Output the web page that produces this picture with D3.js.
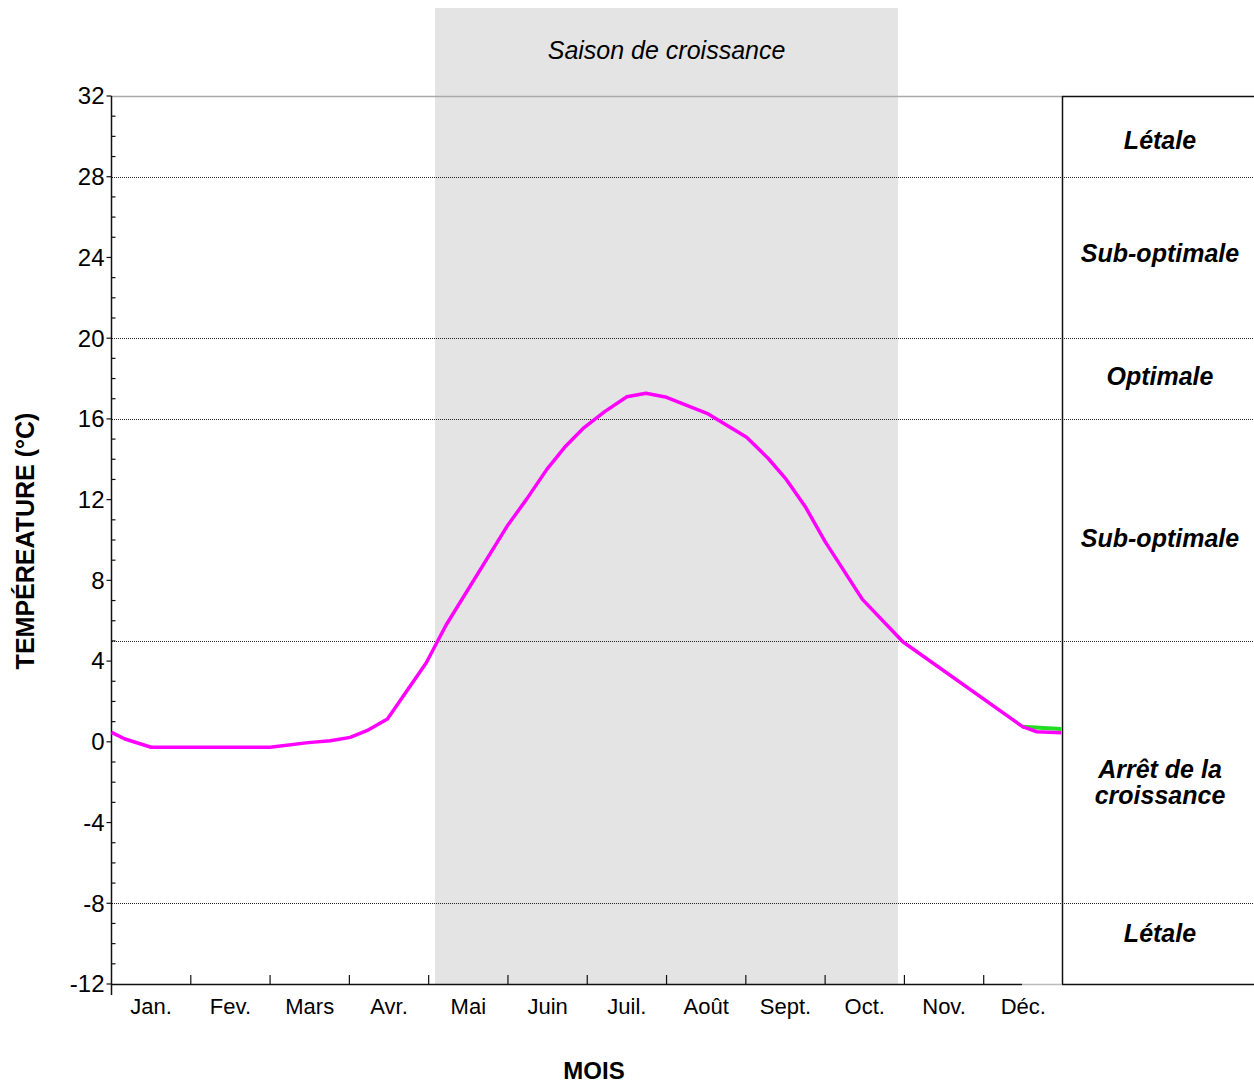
<!DOCTYPE html>
<html>
<head>
<meta charset="utf-8">
<script src="https://cdn.jsdelivr.net/npm/d3@7"></script>
<style>
  html, body { margin: 0; padding: 0; background: #fff; }
  svg { display: block; font-family: "Liberation Sans", Arial, sans-serif; }
</style>
</head>
<body>
<svg id="chart" width="1254" height="1084"></svg>
<script>
// ---- data ----
const months = ["Jan.", "Fev.", "Mars", "Avr.", "Mai", "Juin", "Juil.", "Août", "Sept.", "Oct.", "Nov.", "Déc."];
const yTicks = [-12, -8, -4, 0, 4, 8, 12, 16, 20, 24, 28, 32];
const thresholds = [28, 20, 16, 5, -8];
const zoneLabels = [["Létale"], ["Sub-optimale"], ["Optimale"], ["Sub-optimale"], ["Arrêt de la", "croissance"], ["Létale"]];
const zoneCenters = [29.8, 24.2, 18.1, 10.1, -2.0, -9.5];
const seasonStart = 4.08, seasonEnd = 9.92;
const seasonLabel = "Saison de croissance";
// magenta series (time in months from Jan 1, temperature °C)
const tempMonth = [0.0, 0.17, 0.50, 2.0, 2.48, 2.76, 3.01, 3.22, 3.48, 3.97, 4.22, 4.99, 5.24, 5.49, 5.73, 5.96, 6.22, 6.50, 6.74, 7.00, 7.51, 8.01, 8.28, 8.51, 8.75, 9.00, 9.47, 9.98, 11.49, 11.67, 11.98];
const tempValue = [0.47, 0.14, -0.27, -0.27, -0.04, 0.05, 0.22, 0.55, 1.13, 3.92, 5.79, 10.69, 12.05, 13.5, 14.66, 15.57, 16.36, 17.1, 17.27, 17.07, 16.28, 15.09, 14.05, 13.0, 11.65, 9.92, 7.06, 4.96, 0.75, 0.5, 0.45];
// green series
const greenMonth = [11.49, 11.98];
const greenValue = [0.75, 0.63];

// ---- layout ----
const svg = d3.select("#chart");
const x = d3.scaleLinear().domain([0, 12]).range([111.5, 1063]);
const y = d3.scaleLinear().domain([-12, 32]).range([984, 96]);
const panelLeft = 1062, panelRight = 1254;
const axisEndX = 1022;

// season band
svg.append("rect")
  .attr("x", x(seasonStart)).attr("y", 8)
  .attr("width", x(seasonEnd) - x(seasonStart)).attr("height", y(-12) - 8)
  .attr("fill", "#e4e4e4");
svg.append("text")
  .attr("x", (x(seasonStart) + x(seasonEnd)) / 2).attr("y", 59)
  .attr("text-anchor", "middle").attr("font-size", 25).attr("font-style", "italic")
  .text(seasonLabel);

// threshold dotted lines
svg.selectAll("line.thr").data(thresholds).join("line")
  .attr("class", "thr")
  .attr("x1", x(0)).attr("x2", panelRight)
  .attr("y1", d => Math.round(y(d)) + 0.5).attr("y2", d => Math.round(y(d)) + 0.5)
  .attr("stroke", "#222").attr("stroke-width", 1).attr("stroke-dasharray", "1,1")
  .attr("shape-rendering", "crispEdges");

// plot top border (gray)
svg.append("line").attr("x1", x(0)).attr("x2", panelLeft)
  .attr("y1", y(32) + 0.5).attr("y2", y(32) + 0.5)
  .attr("stroke", "#aaa").attr("stroke-width", 1.5);

// right panel
svg.append("line").attr("x1", panelLeft).attr("x2", panelRight).attr("y1", y(32) + 0.5).attr("y2", y(32) + 0.5).attr("stroke", "#111").attr("stroke-width", 1.5);
svg.append("line").attr("x1", panelLeft).attr("x2", panelRight).attr("y1", y(-12) + 0.5).attr("y2", y(-12) + 0.5).attr("stroke", "#111").attr("stroke-width", 1.5);
svg.append("line").attr("x1", panelLeft + 0.5).attr("x2", panelLeft + 0.5).attr("y1", y(32)).attr("y2", y(-12)).attr("stroke", "#111").attr("stroke-width", 1.5);

const zl = svg.selectAll("text.zone").data(zoneLabels).join("text")
  .attr("class", "zone")
  .attr("x", (panelLeft + panelRight) / 2 + 2)
  .attr("y", (d, i) => y(zoneCenters[i]) - (d.length - 1) * 13)
  .attr("text-anchor", "middle").attr("font-size", 25)
  .attr("font-weight", "bold").attr("font-style", "italic");
zl.selectAll("tspan").data(d => d).join("tspan")
  .attr("x", (panelLeft + panelRight) / 2 + 2)
  .attr("dy", (d, i) => i === 0 ? "0.35em" : "1.06em")
  .text(d => d);

// y axis
const yAxis = svg.append("g").attr("transform", `translate(${x(0)},0)`);
yAxis.append("line").attr("x1", 0).attr("x2", 0).attr("y1", y(32)).attr("y2", y(-12) + 11).attr("stroke", "#111").attr("stroke-width", 1.5);
yAxis.selectAll("line.maj").data(yTicks).join("line").attr("class", "maj")
  .attr("x1", -5).attr("x2", 0).attr("y1", d => y(d)).attr("y2", d => y(d))
  .attr("stroke", "#111").attr("stroke-width", 1.2);
yAxis.selectAll("line.min").data(d3.range(-12, 33).filter(v => v % 4 !== 0)).join("line").attr("class", "min")
  .attr("x1", 0).attr("x2", 4).attr("y1", d => y(d)).attr("y2", d => y(d))
  .attr("stroke", "#111").attr("stroke-width", 1.2);
yAxis.selectAll("text").data(yTicks).join("text")
  .attr("x", -7).attr("y", d => y(d)).attr("dy", "0.35em")
  .attr("text-anchor", "end").attr("font-size", 24)
  .text(d => d);

// x axis
const xAxis = svg.append("g");
xAxis.append("line").attr("x1", x(0)).attr("x2", axisEndX).attr("y1", y(-12) + 0.5).attr("y2", y(-12) + 0.5).attr("stroke", "#111").attr("stroke-width", 1.5);
xAxis.append("line").attr("x1", axisEndX).attr("x2", panelLeft).attr("y1", y(-12) + 0.5).attr("y2", y(-12) + 0.5).attr("stroke", "#bbb").attr("stroke-width", 1.5);
xAxis.selectAll("line.tk").data(d3.range(1, 12)).join("line").attr("class", "tk")
  .attr("x1", d => x(d)).attr("x2", d => x(d)).attr("y1", y(-12)).attr("y2", y(-12) - 9)
  .attr("stroke", "#111").attr("stroke-width", 1.2);
xAxis.selectAll("text").data(months).join("text")
  .attr("x", (d, i) => x(i + 0.5)).attr("y", 1014)
  .attr("text-anchor", "middle").attr("font-size", 22)
  .text(d => d);

// axis titles
svg.append("text").attr("transform", `translate(34,541) rotate(-90)`)
  .attr("text-anchor", "middle").attr("font-size", 25).attr("font-weight", "bold")
  .text("TEMPÉREATURE (°C)");
svg.append("text").attr("x", 594).attr("y", 1079)
  .attr("text-anchor", "middle").attr("font-size", 24).attr("font-weight", "bold")
  .text("MOIS");

// series
const line = d3.line().x(d => x(d[0])).y(d => y(d[1]));
svg.append("path").datum(d3.zip(greenMonth, greenValue))
  .attr("d", line).attr("fill", "none").attr("stroke", "#22dd22").attr("stroke-width", 4);
svg.append("path").datum(d3.zip(tempMonth, tempValue))
  .attr("d", line).attr("fill", "none").attr("stroke", "#ff00ff").attr("stroke-width", 3.5)
  .attr("stroke-linejoin", "round");
</script>
</body>
</html>
